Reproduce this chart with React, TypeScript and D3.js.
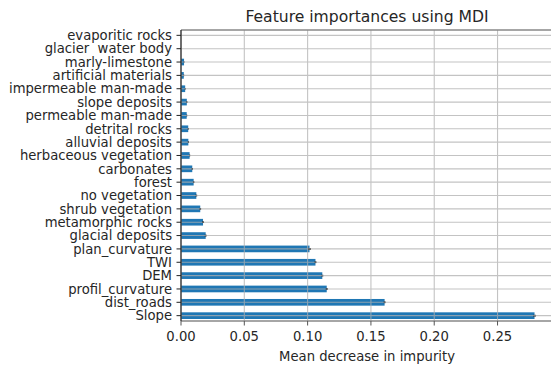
import React from "react";
import * as d3 from "d3";

const features: string[] = [
  "evaporitic rocks",
  "glacier  water body",
  "marly-limestone",
  "artificial materials",
  "impermeable man-made",
  "slope deposits",
  "permeable man-made",
  "detrital rocks",
  "alluvial deposits",
  "herbaceous vegetation",
  "carbonates",
  "forest",
  "no vegetation",
  "shrub vegetation",
  "metamorphic rocks",
  "glacial deposits",
  "plan_curvature",
  "TWI",
  "DEM",
  "profil_curvature",
  "dist_roads",
  "Slope",
];

const importances: number[] = [
  0.0, 0.0, 0.0024, 0.0022, 0.0033, 0.0046, 0.0045, 0.0057, 0.0058, 0.0068,
  0.0089, 0.01, 0.0121, 0.0152, 0.0174, 0.0195, 0.1015, 0.1062, 0.1116,
  0.1151, 0.1608, 0.2792,
];

const stds: number[] = [
  0.0, 0.0, 0.0003, 0.0003, 0.0004, 0.0005, 0.0005, 0.0005, 0.0005, 0.0005,
  0.0006, 0.0006, 0.0007, 0.0007, 0.0008, 0.0008, 0.0012, 0.0008, 0.0008,
  0.0008, 0.0008, 0.0012,
];

const xTicks: number[] = [0, 0.05, 0.1, 0.15, 0.2, 0.25];

const title = "Feature importances using MDI";
const xLabel = "Mean decrease in impurity";

const W = 551;
const H = 366;
const left = 181;
const right = 553;
const top = 30;
const bottom = 321;
const font = "'DejaVu Sans', sans-serif";
const fs = 13.2;

export default function App() {
  const x = d3.scaleLinear().domain([0, 0.2938]).range([left, right]);
  const y = d3
    .scaleLinear()
    .domain([-0.4, features.length - 1 + 0.4])
    .range([top, bottom]);
  const band = y(1) - y(0);
  const barH = band * 0.5;
  const tickLen = 4.5;
  const pad = 4.5;

  return (
    <svg
      width={W}
      height={H}
      style={{ position: "absolute", left: 0, top: 0, background: "#fff" }}
      fontFamily={font}
    >
      <rect x={0} y={0} width={W} height={H} fill="#fff" />
      {features.map((f, i) => (
        <rect
          key={"b" + i}
          x={x(0)}
          y={y(i) - barH / 2}
          width={Math.max(0, x(importances[i]) - x(0))}
          height={barH}
          fill="#1f77b4"
        />
      ))}
      {features.map((f, i) =>
        stds[i] > 0 ? (
          <line
            key={"e" + i}
            x1={x(importances[i] - stds[i])}
            x2={x(importances[i] + stds[i])}
            y1={y(i)}
            y2={y(i)}
            stroke="#000"
            strokeWidth={1.6}
          />
        ) : null
      )}
      <g stroke="#b0b0b0" strokeWidth={1.1} opacity={0.75}>
        {xTicks.map((t, i) => (
          <line key={"gx" + i} x1={x(t)} x2={x(t)} y1={top} y2={bottom} />
        ))}
        {features.map((f, i) => (
          <line key={"gy" + i} x1={left} x2={right} y1={y(i)} y2={y(i)} />
        ))}
      </g>
      <line x1={left} x2={right} y1={top} y2={top} stroke="#888" strokeWidth={1.4} />
      <line x1={left} x2={right} y1={bottom} y2={bottom} stroke="#888" strokeWidth={1.4} />
      <line x1={left} x2={left} y1={top} y2={bottom} stroke="#222" strokeWidth={1.2} />
      {features.map((f, i) => (
        <g key={"yt" + i}>
          <line
            x1={left - tickLen}
            x2={left}
            y1={y(i)}
            y2={y(i)}
            stroke="#222"
            strokeWidth={1}
          />
          <text
            x={left - tickLen - pad}
            y={y(i)}
            dy="0.36em"
            textAnchor="end"
            fontSize={fs}
            fill="#262626"
            style={{ whiteSpace: "pre" }}
          >
            {f}
          </text>
        </g>
      ))}
      {xTicks.map((t, i) => (
        <g key={"xt" + i}>
          <line
            x1={x(t)}
            x2={x(t)}
            y1={bottom}
            y2={bottom + tickLen}
            stroke="#555"
            strokeWidth={1}
          />
          <text
            x={x(t)}
            y={bottom + tickLen + pad + 10.5}
            textAnchor="middle"
            fontSize={fs}
            fill="#262626"
          >
            {d3.format(".2f")(t)}
          </text>
        </g>
      ))}
      <text
        x={(left + right) / 2}
        y={361}
        textAnchor="middle"
        fontSize={fs}
        fill="#262626"
      >
        {xLabel}
      </text>
      <text
        x={(left + right) / 2}
        y={22}
        textAnchor="middle"
        fontSize={15.6}
        fill="#262626"
      >
        {title}
      </text>
    </svg>
  );
}
